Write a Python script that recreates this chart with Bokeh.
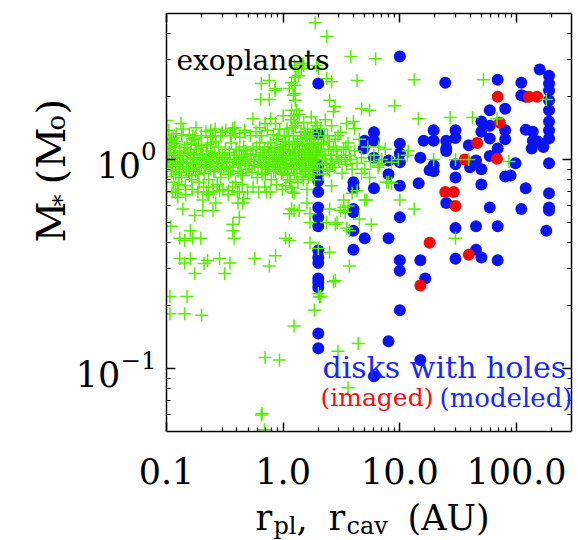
import math
from bokeh.plotting import figure
from bokeh.layouts import row, column
from bokeh.models import Label, FixedTicker, LogAxis, PrintfTickFormatter, CustomJSTickFormatter, LogTickFormatter
from bokeh.embed import file_html
from bokeh.resources import INLINE

# ---------------- data ----------------
# exoplanets: orbital radius (AU) and stellar mass (Msun)
exo_pts = [
    (0.100,1.05),(0.100,0.92),(0.100,1.20),(0.100,0.83),(0.105,1.12),(0.105,0.97),(0.110,1.00),(0.110,0.88),
    (0.110,1.25),(0.115,1.08),(0.115,0.78),(0.120,0.95),(0.120,1.15),(0.120,0.85),(0.125,1.02),(0.125,0.72),
    (0.130,1.10),(0.130,0.90),(0.130,0.98),(0.135,1.30),(0.135,0.82),(0.14,1.05),(0.14,0.93),(0.145,0.75),
    (0.15,1.0),(0.15,1.18),(0.155,0.88),(0.16,0.97),(0.16,1.08),(0.165,0.8),(0.17,1.02),(0.17,0.9),
    (0.175,1.25),(0.18,0.95),(0.18,1.12),(0.185,0.85),(0.19,1.0),(0.19,0.78),(0.195,1.06),(0.2,0.92),
    (0.2,1.15),(0.21,1.0),(0.21,0.86),(0.22,1.1),(0.22,0.95),(0.23,0.8),(0.23,1.03),(0.24,0.9),
    (0.24,1.2),(0.25,0.98),(0.25,0.74),(0.26,1.08),(0.26,0.88),(0.27,1.0),(0.28,0.93),(0.28,1.15),
    (0.29,0.82),(0.3,1.05),(0.3,0.96),(0.31,0.9),(0.32,1.12),(0.33,1.0),(0.34,0.85),(0.35,0.97),
    (0.36,1.2),(0.37,0.92),(0.38,1.05),(0.39,0.78),(0.4,1.0),(0.41,0.88),(0.42,1.1),(0.43,0.95),
    (0.44,1.02),(0.45,0.84),(0.46,1.15),(0.47,0.98),(0.48,0.9),(0.49,1.06),(0.5,0.94),(0.52,1.0),
    (0.54,0.87),(0.55,1.12),(0.57,0.95),(0.58,1.05),(0.6,0.82),(0.62,1.0),(0.63,1.2),(0.65,0.92),
    (0.67,1.08),(0.68,0.97),(0.7,0.86),(0.72,1.02),(0.74,1.15),(0.75,0.93),(0.77,1.0),(0.79,0.8),
    (0.8,1.1),(0.82,0.95),(0.84,1.05),(0.86,0.88),(0.88,1.25),(0.9,0.98),(0.92,1.08),(0.94,0.9),
    (0.96,1.02),(0.98,1.18),
    (0.102,1.0),(0.108,1.15),(0.112,0.93),(0.118,1.05),(0.122,1.22),(0.128,0.87),(0.133,1.04),(0.138,0.96),
    (0.142,1.14),(0.148,0.9),(0.152,1.07),(0.158,0.84),(0.163,1.2),(0.168,0.95),(0.173,1.06),(0.178,0.88),
    (0.183,1.0),(0.188,1.17),(0.193,0.92),(0.205,1.05),(0.215,0.92),(0.225,1.18),(0.235,0.97),(0.245,1.06),
    (0.255,0.88),(0.265,1.22),(0.275,0.96),(0.285,1.04),(0.295,0.9),(0.315,1.02),(0.325,0.93),(0.345,1.08),
    (0.355,0.88),(0.375,1.0),(0.395,1.12),(0.415,0.96),(0.435,0.86),(0.455,1.04),(0.475,1.1),(0.51,0.9),
    (0.53,1.06),(0.56,0.98),(0.59,1.15),(0.61,0.92),(0.64,1.04),(0.66,0.85),(0.69,1.12),(0.71,0.95),
    (0.73,0.9),(0.76,1.08),(0.78,1.2),(0.81,0.98),(0.83,0.88),(0.85,1.14),(0.87,1.02),(0.89,0.92),
    (0.91,1.3),(0.93,0.96),(0.95,1.12),(0.97,0.86),(0.99,1.0),
    (0.104,1.38),(0.112,0.70),(0.121,1.33),(0.127,0.76),(0.139,1.40),(0.146,0.68),(0.157,1.32),(0.166,0.72),
    (0.179,1.42),(0.186,0.70),(0.198,1.30),(0.208,0.74),(0.218,1.36),(0.228,0.68),(0.238,1.28),(0.252,0.70),
    (0.262,1.40),(0.272,0.76),(0.292,1.30),(0.305,0.72),(0.322,1.38),(0.338,0.68),(0.352,1.30),(0.368,0.74),
    (0.385,1.42),(0.405,0.70),(0.425,1.28),(0.445,0.76),(0.468,1.38),(0.495,0.70),(0.525,1.30),(0.552,0.74),
    (0.585,1.36),(0.615,0.70),(0.655,1.30),(0.695,0.74),(0.735,1.38),(0.775,0.70),(0.825,1.32),(0.875,0.76),
    (0.935,1.40),(0.985,0.72),
    (1.0,1.0),(1.0,0.85),(1.02,1.3),(1.04,1.1),(1.05,0.75),(1.06,0.95),(1.08,1.4),(1.1,1.05),
    (1.1,0.9),(1.12,1.2),(1.14,0.8),(1.15,1.0),(1.17,1.55),(1.18,0.92),(1.2,1.12),(1.2,0.7),
    (1.22,1.3),(1.24,1.0),(1.25,0.86),(1.27,1.45),(1.28,1.08),(1.3,0.95),(1.32,1.22),(1.34,0.78),
    (1.35,1.0),(1.37,1.65),(1.38,1.12),(1.4,0.9),(1.42,1.35),(1.44,1.05),(1.45,0.83),(1.47,1.2),
    (1.48,0.98),(1.5,1.5),(1.52,1.1),(1.54,0.88),(1.55,1.3),(1.57,1.0),(1.6,0.72),(1.6,1.18),
    (1.62,1.4),(1.64,0.94),(1.66,1.08),(1.68,1.25),(1.7,0.85),(1.72,1.02),(1.74,1.6),(1.76,1.15),
    (1.78,0.92),(1.8,1.35),(1.82,1.0),(1.85,0.8),(1.87,1.2),(1.9,1.1),(1.92,0.95),(1.95,1.45),
    (1.98,1.05),
    (1.01,1.15),(1.03,0.92),(1.05,1.22),(1.07,1.0),(1.09,0.84),(1.11,1.3),(1.13,1.1),(1.16,0.96),
    (1.19,1.42),(1.21,1.04),(1.23,0.9),(1.26,1.18),(1.29,1.0),(1.31,0.86),(1.33,1.5),(1.36,1.08),
    (1.39,0.96),(1.41,1.25),(1.43,0.92),(1.46,1.12),(1.49,0.8),(1.51,1.36),(1.53,1.02),(1.56,0.9),
    (1.59,1.26),(1.63,1.06),(1.65,0.82),(1.69,1.14),(1.71,0.98),(1.73,1.3),(1.77,1.04),(1.79,0.88),
    (1.83,1.18),(1.86,0.96),(1.89,1.5),(1.93,1.08),(1.96,0.9),(1.99,1.2),
    (2.02,1.25),(2.05,0.9),(2.08,1.1),(2.1,1.4),(2.15,1.0),(2.2,0.85),(2.22,1.2),(2.28,1.05),
    (2.3,1.55),(2.35,0.95),(2.4,1.3),(2.45,1.12),(2.5,0.88),(2.55,1.0),(2.6,1.45),(2.7,1.15),
    (2.75,0.92),(2.8,1.25),(2.9,1.05),(3.0,0.98),(3.1,1.35),(3.2,0.86),(3.3,1.12),(3.4,1.0),
    (3.5,0.95),(3.6,1.2),(3.7,1.05),(3.9,0.9),
    (2.03,1.05),(2.12,1.18),(2.18,0.95),(2.25,1.3),(2.32,1.0),(2.38,0.9),(2.48,1.22),(2.58,1.05),
    (2.65,0.96),(2.85,1.1),(2.95,1.3),(3.15,1.02),(3.45,1.15),(3.8,1.0),
    (4.1,1.1),(4.3,0.96),(4.5,1.25),(4.7,1.02),(5.0,0.9),(5.3,1.15),(5.6,0.98),(6.0,1.05),
    (6.5,0.92),(7.0,1.0),(7.5,1.12),(8.5,0.97),
    (0.65,2.31),(0.76,2.39),(0.86,2.19),(0.85,2.14),(0.64,1.94),(0.76,1.94),(1.25,2.82),(1.29,2.73),
    (1.27,2.47),(1.18,2.33),(1.13,2.19),(1.27,2.07),(1.27,1.92),(1.18,1.72),(1.3,1.72),(1.24,1.62),
    (0.133,1.49),(0.114,1.27),(0.118,1.19),(0.107,1.23),(0.168,1.30),(0.175,1.27),(0.24,1.38),(0.249,1.30),
    (0.30,1.35),(0.37,1.41),(0.39,1.33),(0.47,1.35),(0.55,1.57),(0.63,1.42),(0.70,1.49),(0.78,1.57),
    (0.86,1.49),(1.48,2.88),(1.43,2.73),(1.35,2.52),(1.25,2.26),(1.22,2.03),(1.0,1.62),(0.10,1.54),
    (1.88,4.52),(2.36,3.88),(3.8,3.11),(6.2,3.04),(13.3,2.41),(4.3,2.39),(2.6,2.36),(2.36,2.44),
    (1.94,2.82),(2.0,2.73),(1.5,2.82),(2.5,1.92),(2.78,1.79),(2.7,1.70),(4.7,1.75),(5.5,1.72),
    (9.0,1.81),(14.4,1.57),(3.5,1.49),(4.0,1.52),(4.1,1.41),(6.6,1.15),
    (52,2.41),(27,1.59),(42,1.59),(68,1.57),(180,1.94),(11.6,1.05),(19.5,1.0),(30,1.0),
    (39,1.0),(86,0.98),(10,0.64),(13.3,0.58),(30,0.42),(6.7,0.96),(8.0,0.78),(9.7,1.0),
    (4.7,0.86),(5.5,0.82),(4.3,0.71),(7.7,0.78),(8.5,0.77),(11.8,1.1),(6.6,0.94),
    (1.6,0.62),(1.7,0.55),(2.5,0.58),(2.9,0.50),(3.5,0.47),(3.7,0.457),(4.5,0.52),(5.7,0.49),
    (1.18,0.58),(3.3,0.59),(3.4,0.56),(3.9,0.69),(5.0,0.64),(1.7,0.40),(2.0,0.375),(2.5,0.36),
    (3.7,0.31),(2.8,0.264),(2.0,0.228),(2.05,0.22),(1.85,0.19),(1.24,0.16),(1.37,0.57),(2.6,0.75),
    (3.3,0.64),(3.1,0.57),(3.6,0.60),(5.2,0.64),(1.7,0.50),(2.35,0.50),(2.8,0.49),(2.7,0.26),
    (0.12,0.695),(0.125,0.66),(0.138,0.58),(0.175,0.54),(0.205,0.64),(0.205,0.57),(0.25,0.57),(0.264,0.62),
    (0.37,0.49),(0.42,0.53),(0.45,0.62),(0.109,0.48),(0.13,0.42),(0.143,0.41),(0.168,0.42),(0.16,0.457),
    (0.197,0.42),(0.13,0.336),(0.143,0.32),(0.16,0.336),(0.21,0.318),(0.225,0.329),(0.285,0.336),(0.35,0.32),
    (0.175,0.285),(0.315,0.285),(0.57,0.336),(0.76,0.31),(0.86,0.347),(0.37,0.457),(0.38,0.42),(1.05,0.42),
    (1.13,0.41),(1.24,0.57),(1.15,0.78),(1.18,0.735),(0.22,0.70),(0.285,0.71),(0.34,0.71),(0.42,0.70),
    (0.46,0.65),(0.41,0.62),(0.72,0.70),(1.24,0.69),(1.13,0.55),
    (0.107,0.221),(0.15,0.221),(0.107,0.183),(0.143,0.183),(0.2,0.18),(2.1,0.221),(0.70,0.113),(0.93,0.11),
    (0.65,0.060),(0.66,0.061),(0.69,0.051),(2.95,0.121),(4.4,0.132),(3.6,0.081),
]
exo_r = [r for r, m in exo_pts]
exo_m = [m for r, m in exo_pts]

# disks with holes, cavity radius modeled
mod_r = [10, 24.5, 69, 110, 158, 190, 190, 190, 190, 190, 190, 190, 190, 110, 120,
         59, 80, 50, 50, 59, 59, 80, 80, 69, 120, 138, 138, 153, 135, 170,
         39, 25, 25, 19.5, 19.5, 30, 30, 16, 25, 19.5, 19.5, 30, 30, 45, 40,
         50, 59, 98, 80, 89, 50, 120, 190, 190, 190, 190, 59, 110, 25, 45,
         69, 30, 180, 45, 50, 30, 69, 10, 10, 15, 16.5, 10, 14.5, 10, 10,
         10, 10, 8, 8, 6, 6, 6, 5, 4.9, 6, 4, 4, 4, 4, 4,
         4, 5, 8, 2.0, 2.0, 2.0, 2.0, 2.0, 2.0, 2.0, 2.0, 2.0, 2.0, 2.0, 2.0,
         2.0, 2.0, 2.0, 2.0, 2.0, 18, 15, 10, 8, 6, 15]
mod_m = [3.11, 2.33, 2.41, 2.33, 2.70, 2.52, 2.31, 2.14, 1.92, 1.72, 1.52, 1.38, 1.26, 2.03, 2.0,
         1.72, 1.75, 1.52, 1.36, 1.45, 1.26, 1.38, 1.25, 1.13, 1.39, 1.36, 1.23, 1.22, 1.13, 1.15,
         1.17, 1.23, 1.13, 1.38, 1.23, 1.38, 1.27, 1.23, 1.10, 0.94, 0.88, 0.95, 0.82, 0.99, 0.92,
         0.90, 1.04, 0.96, 0.83, 0.84, 0.76, 0.73, 0.96, 0.69, 0.59, 0.57, 0.59, 0.58, 0.62, 0.48,
         0.48, 0.47, 0.457, 0.37, 0.34, 0.335, 0.33, 0.33, 0.294, 0.33, 0.27, 0.53, 0.77, 0.75, 1.07,
         0.97, 1.19, 0.99, 0.85, 1.35, 1.23, 1.02, 1.23, 1.13, 0.73, 0.78, 0.73, 0.58, 0.56, 0.457,
         0.37, 0.42, 0.42, 2.31, 1.33, 0.86, 0.79, 0.70, 0.59, 0.53, 0.48, 0.367, 0.34, 0.32, 0.27,
         0.258, 0.245, 0.147, 0.125, 0.94, 0.89, 1.02, 0.19, 0.135, 0.092, 0.11]

# disks with holes, cavity radius imaged
img_r = [69, 128, 150, 72, 46, 36, 68, 24.5, 29, 30, 18, 39, 15]
img_m = [2.0, 2.0, 2.0, 1.5, 1.2, 1.0, 1.01, 0.70, 0.70, 0.60, 0.40, 0.35, 0.25]

x_ticks = [0.1, 1, 10, 100]
x_minor = [0.2, 0.3, 0.4, 0.5, 0.6, 0.7, 0.8, 0.9, 2, 3, 4, 5, 6, 7, 8, 9,
           20, 30, 40, 50, 60, 70, 80, 90, 200]
y_ticks = [0.1, 1]
y_minor = [0.06, 0.07, 0.08, 0.09, 0.2, 0.3, 0.4, 0.5, 0.6, 0.7, 0.8, 0.9, 2, 3, 4]

# ---------------- layout geometry ----------------
FONT = "DejaVu Serif"
LEFT_W = 72            # strip holding the y-axis title
MAIN_W = 578 - LEFT_W
BORDER_B = 70
MAIN_H = 431 + BORDER_B
BOT_H = 540 - MAIN_H   # strip holding the x-axis title
BORDER_L = 164 - LEFT_W

p = figure(width=MAIN_W, height=MAIN_H, x_axis_type="log", y_axis_type="log",
           x_range=(0.1, 296), y_range=(0.05, 5.0), title=None,
           output_backend="svg", toolbar_location=None,
           min_border_left=BORDER_L, min_border_right=7, min_border_top=13,
           min_border_bottom=BORDER_B)
p.xgrid.visible = False
p.ygrid.visible = False
p.outline_line_color = None
p.background_fill_color = "white"
p.border_fill_color = "white"

blank = CustomJSTickFormatter(code="return ''")

def style_axis(ax, ticks, minor):
    ax.ticker = FixedTicker(ticks=ticks, minor_ticks=minor)
    ax.axis_label = None
    ax.axis_line_color = "black"
    ax.axis_line_width = 1.5
    ax.major_tick_in = 9
    ax.major_tick_out = 0
    ax.minor_tick_in = 4
    ax.minor_tick_out = 0
    ax.major_tick_line_color = "black"
    ax.minor_tick_line_color = "black"
    ax.major_tick_line_width = 1.5
    ax.minor_tick_line_width = 1.2
    ax.major_label_text_font = FONT
    ax.major_label_text_color = "black"

xa = p.xaxis[0]
style_axis(xa, x_ticks, x_minor)
xa.formatter = PrintfTickFormatter(format="%.1f")
xa.major_label_text_font_size = "35px"
xa.major_label_standoff = 26

ya = p.yaxis[0]
style_axis(ya, y_ticks, y_minor)
ya.formatter = LogTickFormatter()
ya.major_label_text_font_size = "35px"
ya.major_label_standoff = 10

top = LogAxis()
style_axis(top, x_ticks, x_minor)
top.formatter = blank
top.major_label_standoff = 0
p.add_layout(top, "above")
right = LogAxis()
style_axis(right, y_ticks, y_minor)
right.formatter = blank
right.major_label_standoff = 0
p.add_layout(right, "right")

# data marks
p.scatter(mod_r, mod_m, marker="circle", size=12, fill_color="#0a14f0", line_color=None)
p.scatter(img_r, img_m, marker="circle", size=12, fill_color="#f50a0a", line_color=None)
p.scatter(exo_r, exo_m, marker="cross", size=13, line_color="#55ee00", line_width=1.5)

def add_text(fig, ox, oy_bottom, txt, cx, cy, size, color="black", angle=0.0, align="left"):
    # (cx, cy): page position of the text baseline start; (ox, oy_bottom): page
    # position of the figure frame's left / bottom edge
    fig.add_layout(Label(x=cx - ox, y=oy_bottom - cy, x_units="screen", y_units="screen",
                         text=txt, text_font=FONT, text_font_size=f"{size}px",
                         text_color=color, angle=angle, text_baseline="alphabetic",
                         text_align=align))

FRAME_L, FRAME_B = 164, 431
add_text(p, FRAME_L, FRAME_B, "exoplanets", 174, 60, 28)
add_text(p, FRAME_L, FRAME_B, "disks with holes", 320, 367, 30, "#1a2af0")
add_text(p, FRAME_L, FRAME_B, "(imaged)", 318, 397, 25, "#f51010")
add_text(p, FRAME_L, FRAME_B, "(modeled)", 437, 397, 26, "#1a2af0")

# ---- y-axis title strip: M_* (M_o), rotated
ly = figure(width=LEFT_W, height=MAIN_H, x_range=(0, 1), y_range=(0, 1), title=None,
            x_axis_location=None, y_axis_location=None, min_border=0,
            output_backend="svg", toolbar_location=None)
ly.grid.visible = False
ly.outline_line_color = None
A = math.pi / 2
add_text(ly, 0, MAIN_H, "M", 50, 312, 40, angle=A)
add_text(ly, 0, MAIN_H, "*", 61, 276, 24, angle=A)
add_text(ly, 0, MAIN_H, "(", 50, 254, 40, angle=A)
add_text(ly, 0, MAIN_H, "M", 50, 238, 40, angle=A)
add_text(ly, 0, MAIN_H, "o", 55, 200, 26, angle=A)
add_text(ly, 0, MAIN_H, ")", 50, 184, 40, angle=A)

# ---- x-axis title strip: r_pl, r_cav (AU)
# (this strip's frame sits ~11 px lower than its nominal place, so the
#  baselines below are given 11 px higher to land at y~528 / ~536 on the page)
bx = figure(frame_width=578, frame_height=BOT_H, x_range=(0, 1), y_range=(0, 1), title=None,
            x_axis_location=None, y_axis_location=None, min_border=0,
            min_border_left=0, min_border_right=0, min_border_top=0, min_border_bottom=0,
            output_backend="svg", toolbar_location=None)
bx.grid.visible = False
bx.outline_line_color = None
add_text(bx, 0, 540, "r", 255, 517, 35)
add_text(bx, 0, 540, "pl", 273, 525, 24)
add_text(bx, 0, 540, ",", 296, 517, 35)
add_text(bx, 0, 540, "r", 328, 517, 35)
add_text(bx, 0, 540, "cav", 346, 525, 24)
add_text(bx, 0, 540, "(AU)", 407, 517, 35)

layout = column(row(ly, p, spacing=0), bx, spacing=0)
open("out.html", "w").write(file_html(layout, INLINE))
